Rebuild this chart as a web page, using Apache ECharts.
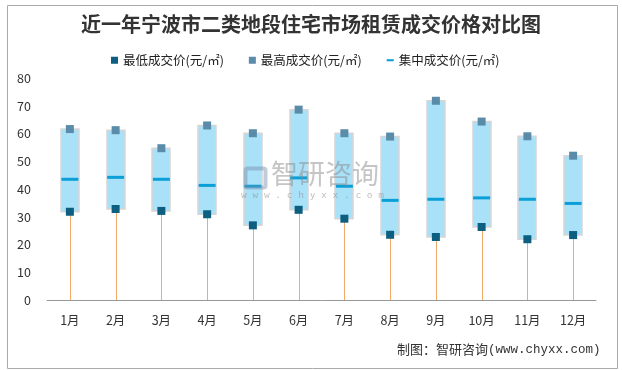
<!DOCTYPE html>
<html><head><meta charset="utf-8">
<script src="https://cdn.jsdelivr.net/npm/echarts@6/dist/echarts.min.js"></script>
<style>html,body{margin:0;padding:0;background:#fff}#c{width:622px;height:370px}</style>
</head><body><div id="c"></div>
<script>
var categories = ['1月','2月','3月','4月','5月','6月','7月','8月','9月','10月','11月','12月'];
var minPrice = [31.8, 32.8, 32.1, 30.9, 26.9, 32.5, 29.3, 23.5, 22.7, 26.3, 21.9, 23.4];
var maxPrice = [61.6, 61.2, 54.7, 62.9, 60.1, 68.6, 60.1, 58.9, 71.8, 64.3, 59.0, 52.0];
var midPrice = [43.5, 44.2, 43.5, 41.3, 41.0, 44.0, 41.0, 35.9, 36.3, 36.8, 36.3, 34.8];
var yTicks = [0, 10, 20, 30, 40, 50, 60, 70, 80];

var chart = echarts.init(document.getElementById('c'), null, {renderer: 'canvas'});
var rangeData = categories.map(function (c, i) { return [i, minPrice[i], maxPrice[i]]; });
var dropData = categories.map(function (c, i) { return [i, minPrice[i]]; });

chart.setOption({
  backgroundColor: '#fff',
  animation: false,
  textStyle: {fontFamily: '"Noto Sans CJK SC", sans-serif'},
  title: {
    text: '近一年宁波市二类地段住宅市场租赁成交价格对比图',
    left: 'center', top: 9,
    textStyle: {fontSize: 20, fontWeight: 'bold', color: '#333', fontFamily: '"Noto Sans CJK SC", sans-serif'}
  },
  legend: {
    top: 49, left: 106, itemWidth: 7, itemHeight: 7, itemGap: 25,
    textStyle: {fontSize: 12.5, color: '#222', width: 114, overflow: 'none'},
    data: [
      {name: '最低成交价(元/㎡)', icon: 'rect'},
      {name: '最高成交价(元/㎡)', icon: 'rect'},
      {name: '集中成交价(元/㎡)', icon: 'path://M0,0H10V3H0Z'}
    ]
  },
  grid: {left: 47, right: 26, top: 78, bottom: 70},
  xAxis: {
    type: 'category', data: categories,
    axisLine: {lineStyle: {color: '#999'}},
    axisTick: {show: false},
    axisLabel: {fontSize: 12.5, color: '#333', margin: 14}
  },
  yAxis: {
    type: 'value', min: 0, max: 80, interval: 10,
    axisLine: {show: false}, axisTick: {show: false}, splitLine: {show: false},
    axisLabel: {fontSize: 12.5, color: '#333', margin: 16}
  },
  graphic: [
    {type: 'rect', left: 5, top: 3, shape: {width: 610, height: 363}, style: {fill: 'none', stroke: '#aaa', lineWidth: 1}, silent: true, z: -1},
    {type: 'text', left: 271, top: 160, style: {text: '智研咨询', fontSize: 27, fill: 'rgba(140,140,140,0.5)', fontFamily: '"Noto Sans CJK SC", sans-serif'}, z: 100},
    {type: 'text', left: 241, top: 191, style: {text: 'w w w . c h y x x . c o m', fontSize: 9.5, fill: 'rgba(140,140,140,0.55)', fontFamily: 'DejaVu Sans Mono'}, z: 100},
    {type: 'rect', left: 243, top: 166, shape: {width: 20, height: 19, r: 2}, style: {fill: 'none', stroke: 'rgba(120,140,170,0.45)', lineWidth: 4}, z: 100},
    {type: 'text', left: 397, top: 343, style: {
      text: '{a|制图：智研咨询}{b|(www.chyxx.com)}',
      rich: {
        a: {fontSize: 13, fill: '#333', fontFamily: '"Noto Sans CJK SC", sans-serif'},
        b: {fontSize: 12.5, fill: '#333', fontFamily: 'Liberation Mono'}
      }
    }}
  ],
  series: [
    {
      name: 'drop', type: 'custom', data: dropData, z: 1,
      renderItem: function (params, api) {
        var p0 = api.coord([api.value(0), 0]);
        var p1 = api.coord([api.value(0), api.value(1)]);
        return {type: 'line', shape: {x1: Math.round(p0[0]) + 0.5, y1: p0[1], x2: Math.round(p0[0]) + 0.5, y2: p1[1]}, style: {stroke: '#f0aa6a', lineWidth: 1}};
      }
    },
    {
      name: 'range', type: 'custom', data: rangeData, z: 2,
      renderItem: function (params, api) {
        var lo = api.coord([api.value(0), api.value(1)]);
        var hi = api.coord([api.value(0), api.value(2)]);
        var w = 18;
        return {type: 'rect', shape: {x: Math.round(lo[0] - w / 2), y: hi[1], width: w, height: lo[1] - hi[1]}, style: {fill: '#a9e1f8', stroke: '#d6d6d6', lineWidth: 1.5}};
      }
    },
    {
      name: '集中成交价(元/㎡)', type: 'scatter', data: midPrice, symbol: 'rect', symbolSize: [17, 3],
      itemStyle: {color: '#0b9fd8', opacity: 1}, z: 3
    },
    {
      name: '最低成交价(元/㎡)', type: 'scatter', data: minPrice, symbol: 'rect', symbolSize: 8,
      itemStyle: {color: '#0c5f80', opacity: 1}, z: 4
    },
    {
      name: '最高成交价(元/㎡)', type: 'scatter', data: maxPrice, symbol: 'rect', symbolSize: 8,
      itemStyle: {color: '#5a8ba8', opacity: 1}, z: 4
    }
  ]
});
</script></body></html>
